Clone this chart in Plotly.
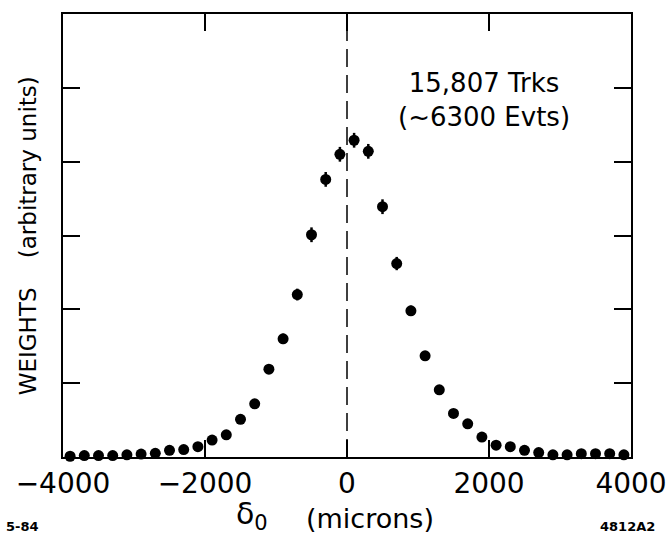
import plotly.graph_objects as go

# Data (bin centres in microns, weights in arbitrary units)
delta0 = [-3900, -3700, -3500, -3300, -3100, -2900, -2700, -2500, -2300, -2100,
          -1900, -1700, -1500, -1300, -1100, -900, -700, -500, -300, -100,
          100, 300, 500, 700, 900, 1100, 1300, 1500, 1700, 1900,
          2100, 2300, 2500, 2700, 2900, 3100, 3300, 3500, 3700, 3900]
weights = [0.01, 0.02, 0.02, 0.02, 0.03, 0.04, 0.05, 0.09, 0.10, 0.14,
           0.23, 0.30, 0.51, 0.72, 1.19, 1.60, 2.20, 3.01, 3.76, 4.10,
           4.29, 4.14, 3.39, 2.62, 1.98, 1.37, 0.91, 0.59, 0.45, 0.27,
           0.16, 0.14, 0.09, 0.06, 0.03, 0.03, 0.045, 0.045, 0.045, 0.03]
errors = [0.0, 0.0, 0.0, 0.0, 0.0, 0.0, 0.0, 0.0, 0.0, 0.0,
          0.0, 0.0, 0.0, 0.0, 0.06, 0.07, 0.08, 0.10, 0.10, 0.10,
          0.10, 0.10, 0.10, 0.09, 0.07, 0.06, 0.0, 0.0, 0.0, 0.0,
          0.0, 0.0, 0.0, 0.0, 0.0, 0.0, 0.0, 0.0, 0.0, 0.0]

x_tickvals = [-4000, -2000, 0, 2000, 4000]
x_ticktext = ["\u22124000", "\u22122000", "0", "2000", "4000"]
y_tickvals = [1, 2, 3, 4, 5]

FONT = "DejaVu Sans"

fig = go.Figure()
fig.add_trace(go.Scatter(
    x=delta0, y=weights, mode="markers",
    marker=dict(color="black", size=11, line=dict(width=0)),
    error_y=dict(type="data", array=errors, visible=True, color="black",
                 thickness=2.5, width=0),
    cliponaxis=False, showlegend=False,
))

fig.add_shape(type="line", xref="x", yref="paper", x0=0, x1=0, y0=0, y1=1,
              line=dict(color="black", width=1.5, dash="18px,8px"))

fig.update_layout(
    width=666, height=537,
    margin=dict(l=63, r=35, t=14, b=80),
    paper_bgcolor="white", plot_bgcolor="white",
    font=dict(family=FONT, color="black"),
    xaxis=dict(range=[-4000, 4000], tickvals=x_tickvals, ticktext=x_ticktext,
               ticks="inside", ticklen=17, tickwidth=1.5, tickcolor="black",
               showline=True, linewidth=2, linecolor="black", mirror="ticks",
               showgrid=False, zeroline=False, ticklabeloverflow="allow",
               automargin=False,
               tickfont=dict(size=28, family=FONT)),
    yaxis=dict(range=[0, 6], tickvals=y_tickvals, showticklabels=False,
               ticks="inside", ticklen=17, tickwidth=1.5, tickcolor="black",
               showline=True, linewidth=2, linecolor="black", mirror="ticks",
               showgrid=False, zeroline=False, automargin=False),
)

fig.add_annotation(xref="paper", yref="paper", x=-0.062, y=0.5,
                   text="WEIGHTS\u00a0\u00a0\u00a0\u00a0(arbitrary units)",
                   textangle=-90, showarrow=False,
                   font=dict(size=23, family=FONT), xanchor="center", yanchor="middle")
fig.add_annotation(xref="paper", yref="paper", x=0.333, y=-0.132,
                   text="\u03b4<sub>0</sub>", showarrow=False,
                   font=dict(size=30, family=FONT), xanchor="center", yanchor="middle")
fig.add_annotation(xref="paper", yref="paper", x=0.54, y=-0.138,
                   text="(microns)", showarrow=False,
                   font=dict(size=27, family=FONT), xanchor="center", yanchor="middle")
fig.add_annotation(xref="paper", yref="paper", x=0.741, y=0.806,
                   text="15,807 Trks<br>(~6300 Evts)", showarrow=False,
                   font=dict(size=26, family=FONT), xanchor="center", yanchor="middle",
                   align="center")
fig.add_annotation(xref="paper", yref="paper", x=-0.103, y=-0.158,
                   text="<b>5-84</b>", showarrow=False,
                   font=dict(size=13, family=FONT), xanchor="left", yanchor="middle")
fig.add_annotation(xref="paper", yref="paper", x=1.045, y=-0.158,
                   text="<b>4812A2</b>", showarrow=False,
                   font=dict(size=13, family=FONT), xanchor="right", yanchor="middle")

fig.write_html("out.html")
